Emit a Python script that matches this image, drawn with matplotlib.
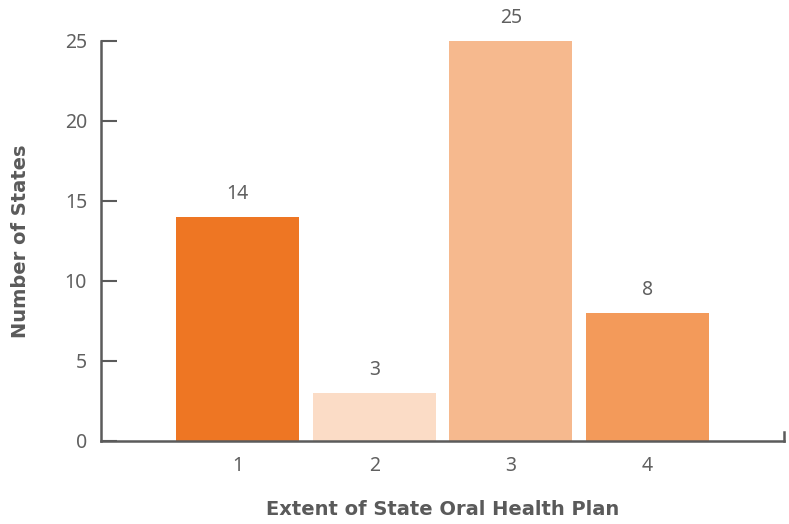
import matplotlib
matplotlib.use("Agg")
import matplotlib.pyplot as plt
from matplotlib.lines import Line2D

categories = ["1", "2", "3", "4"]
values = [14, 3, 25, 8]
colors = ["#EE7623", "#FBDCC6", "#F6B98E", "#F39A5A"]
y_ticks = [0, 5, 10, 15, 20, 25]

plt.rcParams["font.family"] = ["Noto Sans", "DejaVu Sans"]
axis_color = "#5b5b5b"
text_color = "#5a5a5a"
number_color = "#606060"

fig = plt.figure(figsize=(7.89, 5.24), dpi=100)
ax = fig.add_axes([0.128, 0.1584, 0.8657, 0.7634])

pos = list(range(1, len(categories) + 1))
bars = ax.bar(pos, values, width=0.9, color=colors, zorder=2)

for x, v in zip(pos, values):
    ax.annotate(str(v), (x, v), xytext=(0, 9), textcoords="offset points",
                ha="center", va="bottom", fontsize=14, color=number_color,
                annotation_clip=False)

ax.set_xlim(0, 5)
ax.set_ylim(0, 25)
ax.set_xticks(pos)
ax.set_xticklabels(categories)
ax.set_yticks(y_ticks)

for s in ["top", "right"]:
    ax.spines[s].set_visible(False)
for s in ["left", "bottom"]:
    ax.spines[s].set_color(axis_color)
    ax.spines[s].set_linewidth(1.8)
    ax.spines[s].set_zorder(3)

ax.tick_params(axis="y", direction="in", length=11.5, width=1.5, color=axis_color,
               labelsize=14, labelcolor=number_color, pad=10)
ax.tick_params(axis="x", length=0, labelsize=14, labelcolor=number_color, pad=11)

# small upright tick closing the x axis on the right
ax.add_line(Line2D([1.0, 1.0], [0, 0.022], transform=ax.transAxes, color=axis_color,
                   linewidth=1.8, clip_on=False, zorder=3))

ax.set_ylabel("Number of States", fontsize=14, fontweight="bold", color=text_color,
              fontfamily="DejaVu Sans", labelpad=25)
ax.set_xlabel("Extent of State Oral Health Plan", fontsize=14, fontweight="bold",
              color=text_color, fontfamily="DejaVu Sans", labelpad=17)

fig.savefig("out.png", dpi=100)
